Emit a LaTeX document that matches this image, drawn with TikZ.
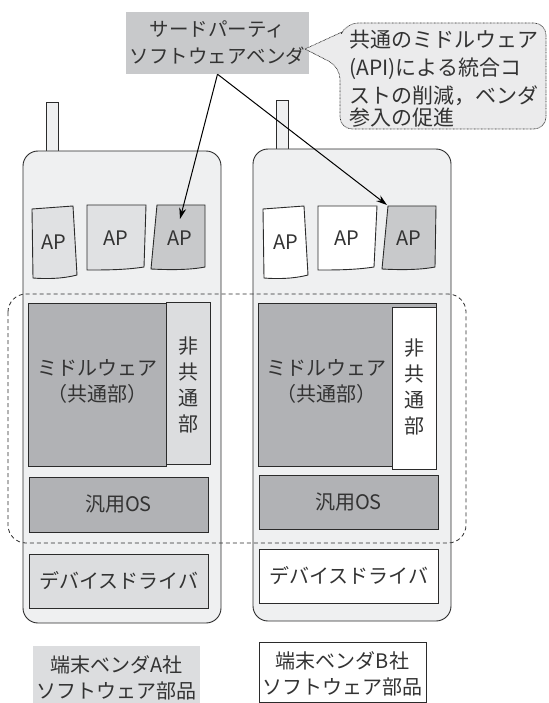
\documentclass[tikz,border=0pt]{standalone}
\usepackage{fontspec}
\setmainfont{Noto Sans CJK JP}
\usetikzlibrary{arrows.meta}
\definecolor{phonec}{HTML}{EFF0F1}
\definecolor{aplight}{HTML}{E0E1E3}
\definecolor{apdark}{HTML}{C8C9CB}
\definecolor{mwc}{HTML}{B1B2B5}
\definecolor{ncc}{HTML}{DCDDDF}
\definecolor{tpc}{HTML}{C8C9CB}
\definecolor{bubc}{HTML}{EBEBEC}
\definecolor{linec}{HTML}{2B2B2B}
\definecolor{txtc}{HTML}{333333}
\begin{document}
\begin{tikzpicture}[x=1pt,y=-1pt,
  box/.style={draw=linec, line width=0.9pt},
  txt/.style={text=txtc, inner sep=0pt, font=\fontsize{20}{26}\selectfont, align=center},
  rect/.style={box, inner sep=0pt, minimum width=#1},
  dashreg/.style={draw=linec, line width=0.8pt, dash pattern=on 4pt off 3pt},
  dotreg/.style={draw=linec, line width=0.7pt, dash pattern=on 0.7pt off 0.7pt},
  arr/.style={draw=black, line width=1pt, -{Stealth[length=11pt,width=7pt]}}
]
\useasboundingbox (0,0) rectangle (548,703);

% ---- phones ----
\draw[box, fill=phonec] (46,102) rectangle (58,156);
\draw[box, fill=phonec] (276,100) rectangle (288,154);
\node[box, fill=phonec, rounded corners=15, minimum width=198pt, minimum height=472pt, inner sep=0pt] (phoneA) at (122,387) {};
\node[box, fill=phonec, rounded corners=15, minimum width=198pt, minimum height=472pt, inner sep=0pt] (phoneB) at (352,385) {};

% ---- AP boxes (phone A) ----
\draw[box, fill=aplight] (32,209) -- (73,206) -- (77,275) .. controls (62,279) and (45,279) .. (33,278) -- cycle;
\node[txt] (apA1) at (54,242) {AP};
\draw[box, fill=aplight] (87,205) -- (146,205) -- (144,267) .. controls (125,270) and (105,270) .. (87,270) -- cycle;
\node[txt] (apA2) at (116,238) {AP};
\draw[box, fill=apdark] (157,205) -- (205,205) -- (205,267) .. controls (190,270) and (170,270) .. (151,269) -- cycle;
\node[txt] (apA3) at (180,238) {AP};

% ---- AP boxes (phone B) ----
\draw[box, fill=white] (263,209) -- (304,206) -- (308,275) .. controls (293,279) and (276,279) .. (264,278) -- cycle;
\node[txt] (apB1) at (286,242) {AP};
\draw[box, fill=white] (318,206) -- (377,206) -- (374,267) .. controls (355,270) and (335,270) .. (318,270) -- cycle;
\node[txt] (apB2) at (347,238) {AP};
\draw[box, fill=apdark] (388,206) -- (436,206) -- (435,267) .. controls (420,270) and (400,270) .. (382,269) -- cycle;
\node[txt] (apB3) at (409,238) {AP};
\coordinate (apB3tl) at (387,205);
\coordinate (apA3in) at (180,219);

% ---- middleware / OS / drivers (phone A) ----
\node[rect=138pt, minimum height=163pt, fill=mwc] (mwA) at (97,384.5) {};
\node[txt] (mwAt) at (97,381) {ミドルウェア\\（共通部）};
\node[rect=44pt, minimum height=162pt, fill=ncc] (ncA) at (188,383) {};
\node[txt] (ncAt) at (188,385) {非\\共\\通\\部};
\node[rect=179pt, minimum height=55pt, fill=mwc, txt] (osA) at (118.5,504.5) {汎用OS};
\node[rect=179pt, minimum height=54pt, fill=ncc, txt] (drA) at (118.5,581) {デバイスドライバ};

% ---- middleware / OS / drivers (phone B) ----
\node[rect=178pt, minimum height=163pt, fill=mwc] (mwB) at (347,384.5) {};
\node[txt] (mwBt) at (326,381) {ミドルウェア\\（共通部）};
\node[rect=44pt, minimum height=162pt, fill=white] (ncB) at (414,388) {};
\node[txt] (ncBt) at (414,387) {非\\共\\通\\部};
\node[rect=179pt, minimum height=54pt, fill=mwc, txt] (osB) at (348.5,502) {汎用OS};
\node[rect=179pt, minimum height=54pt, fill=white, txt] (drB) at (348.5,576) {デバイスドライバ};

% ---- dashed common region ----
\draw[dashreg, rounded corners=18] (8,294) rectangle (466,543);

% ---- third party vendor ----
\node[fill=tpc, minimum width=183pt, minimum height=62pt, inner sep=0pt, txt, font=\fontsize{19.5}{27}\selectfont] (tp) at (217.5,43) {サードパーティ\\ソフトウェアベンダ};

% ---- callout bubble ----
\draw[dotreg, fill=bubc] (305,49) -- (342,32) [rounded corners=12] -- (346,23) -- (546,23) -- (546,129) -- (340,129) -- (340,67) [sharp corners] -- cycle;
\node[txt, align=left, anchor=west, font=\fontsize{21}{28}\selectfont] (bubt) at (349,79)
  {共通のミドルウェア\\(API)による統合コ\\ストの削減，ベンダ\\[-6pt]参入の促進};

% ---- arrows ----
\draw[arr] (tp.south) -- (apA3in);
\draw[arr] (tp.south) -- (apB3tl);

% ---- bottom labels ----
\node[fill=ncc, minimum width=167pt, minimum height=58pt, inner sep=0pt] (labA) at (116.5,675) {};
\node[txt, font=\fontsize{20}{25.5}\selectfont] (labAt) at (116.5,678) {端末ベンダA社\\ソフトウェア部品};
\node[box, fill=white, minimum width=167pt, minimum height=60pt, inner sep=0pt] (labB) at (342.5,672) {};
\node[txt, font=\fontsize{20}{26.5}\selectfont] (labBt) at (342.5,674) {端末ベンダB社\\ソフトウェア部品};
\end{tikzpicture}
\end{document}
